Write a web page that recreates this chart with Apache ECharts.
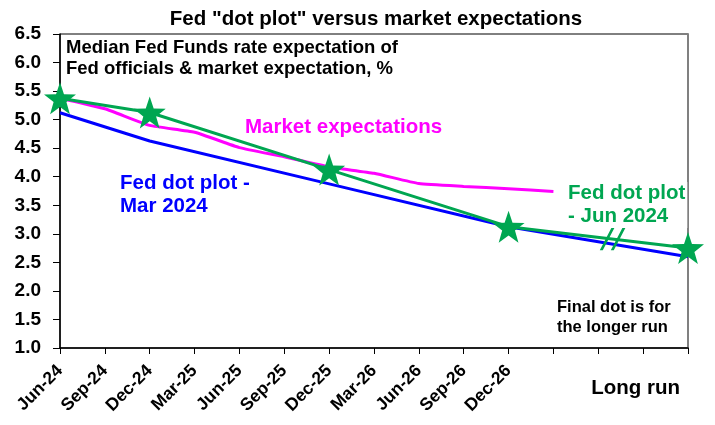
<!DOCTYPE html>
<html>
<head>
<meta charset="utf-8">
<script src="https://cdn.jsdelivr.net/npm/echarts@6/dist/echarts.min.js"></script>
<style>
  html, body { margin: 0; padding: 0; background: #fff; }
  #chart { width: 715px; height: 425px; }
</style>
</head>
<body>
<div id="chart"></div>
<script>
// categories along the bottom (last one is the longer run)
const categories = ['Jun-24', 'Sep-24', 'Dec-24', 'Mar-25', 'Jun-25', 'Sep-25', 'Dec-25',
  'Mar-26', 'Jun-26', 'Sep-26', 'Dec-26', 'Mar-27', 'Jun-27', 'Sep-27', 'Long run'];
const shownLabels = ['Jun-24', 'Sep-24', 'Dec-24', 'Mar-25', 'Jun-25', 'Sep-25', 'Dec-25',
  'Mar-26', 'Jun-26', 'Sep-26', 'Dec-26'];

// Fed dot plot - Mar 2024 (median)
const dotMar = [5.12, null, 4.625, null, null, null, 3.875, null, null, null, 3.125, null, null, null, 2.6];
// Fed dot plot - Jun 2024 (median)
const dotJun = [5.375, null, 5.125, null, null, null, 4.125, null, null, null, 3.125, null, null, null, 2.75];
// market expectations
const market = [5.375, 5.19, 4.9, 4.78, 4.51, 4.35, 4.17, 4.06, 3.88, 3.83, 3.79, 3.74, null, null, null];

// y axis ticks
const yMin = 1.0, yMax = 6.5, yStep = 0.5;

const GREEN = '#00a651', BLUE = '#0000ff', PINK = '#ff00ff';

// 5-point star path for the symbols
function starPath() {
  let d = '';
  for (let i = 0; i < 10; i++) {
    const r = i % 2 === 0 ? 50 : 20;
    const a = Math.PI / 2 + i * Math.PI / 5;
    const x = 50 + r * Math.cos(a), y = 50 - r * Math.sin(a);
    d += (i === 0 ? 'M' : 'L') + x.toFixed(2) + ',' + y.toFixed(2) + ' ';
  }
  return 'path://' + d + 'Z';
}

const chart = echarts.init(document.getElementById('chart'));
const font = 'Liberation Sans, Arial, sans-serif';

chart.setOption({
  animation: false,
  backgroundColor: '#fff',
  title: {
    text: 'Fed "dot plot" versus market expectations',
    left: 371, top: 4, textAlign: 'center',
    textStyle: { fontFamily: font, fontSize: 20.5, fontWeight: 'bold', color: '#000' }
  },
  grid: { left: 60, right: 27, top: 34, bottom: 77, show: true, borderColor: '#000', borderWidth: 1 },
  xAxis: {
    type: 'category',
    data: categories,
    boundaryGap: false,
    axisLine: { lineStyle: { color: '#000', width: 1.5 } },
    axisTick: { show: true, length: 6, lineStyle: { color: '#000' }, interval: 0 },
    axisLabel: {
      interval: 0, rotate: 45, margin: 20,
      fontFamily: font, fontSize: 17.5, fontWeight: 'bold', color: '#000',
      formatter: v => shownLabels.indexOf(v) >= 0 ? v : ''
    },
    splitLine: { show: false }
  },
  yAxis: [{
    type: 'value', min: yMin, max: yMax, interval: yStep,
    axisLine: { show: true, lineStyle: { color: '#000', width: 1.5 } },
    axisTick: { show: true, length: 7, lineStyle: { color: '#000' } },
    axisLabel: {
      fontFamily: font, fontSize: 19, fontWeight: 'bold', color: '#000', margin: 19,
      formatter: v => v.toFixed(1)
    },
    splitLine: { show: false }
  }, {
    type: 'value', min: yMin, max: yMax, interval: yStep, position: 'right',
    axisLine: { show: true, lineStyle: { color: '#808080', width: 2 } },
    axisTick: { show: false }, axisLabel: { show: false }, splitLine: { show: false }
  }],
  series: [{
    name: 'Fed dot plot - Mar 2024', type: 'line', data: dotMar, connectNulls: true,
    showSymbol: false, symbol: 'none',
    lineStyle: { color: BLUE, width: 3 }, itemStyle: { color: BLUE }
  }, {
    name: 'Market expectations', type: 'line', data: market, connectNulls: false,
    symbol: 'none', smooth: 0.15,
    lineStyle: { color: PINK, width: 3 }, itemStyle: { color: PINK }
  }, {
    name: 'Fed dot plot - Jun 2024', type: 'line', data: dotJun, connectNulls: true,
    symbol: starPath(), symbolSize: 32, showAllSymbol: true,
    lineStyle: { color: GREEN, width: 3 }, itemStyle: { color: GREEN },
    markPoint: {
      silent: true,
      symbol: 'path://M0,26 L13,0 L16,0 L3,26 Z M11,26 L24,0 L27,0 L14,26 Z',
      symbolSize: [27, 25],
      symbolOffset: [15, 0],
      itemStyle: { color: GREEN },
      label: { show: false },
      data: [{ coord: [12, 2.93] }]
    }
  }],
  graphic: [{
    type: 'text', left: 66, top: 37, z: 100,
    style: {
      text: 'Median Fed Funds rate expectation of\nFed officials & market expectation, %',
      font: 'bold 18.5px ' + font, fill: '#000', lineHeight: 21
    }
  }, {
    type: 'text', left: 245, top: 117, z: 100,
    style: { text: 'Market expectations', font: 'bold 20.5px ' + font, fill: PINK }
  }, {
    type: 'text', left: 120, top: 172, z: 100,
    style: { text: 'Fed dot plot -\nMar 2024', font: 'bold 20.5px ' + font, fill: BLUE, lineHeight: 23 }
  }, {
    type: 'text', left: 568, top: 182, z: 100,
    style: {
      text: 'Fed dot plot\n- Jun 2024', font: 'bold 20.5px ' + font, fill: GREEN, lineHeight: 23,
      backgroundColor: '#fff', padding: [0, 2, 0, 0]
    }
  }, {
    type: 'text', left: 557, top: 297, z: 100,
    style: { text: 'Final dot is for\nthe longer run', font: 'bold 16.5px ' + font, fill: '#000', lineHeight: 20 }
  }, {
    type: 'text', right: 35, top: 378, z: 100,
    style: { text: 'Long run', font: 'bold 20.5px ' + font, fill: '#000' }
  }]
});
</script>
</body>
</html>
